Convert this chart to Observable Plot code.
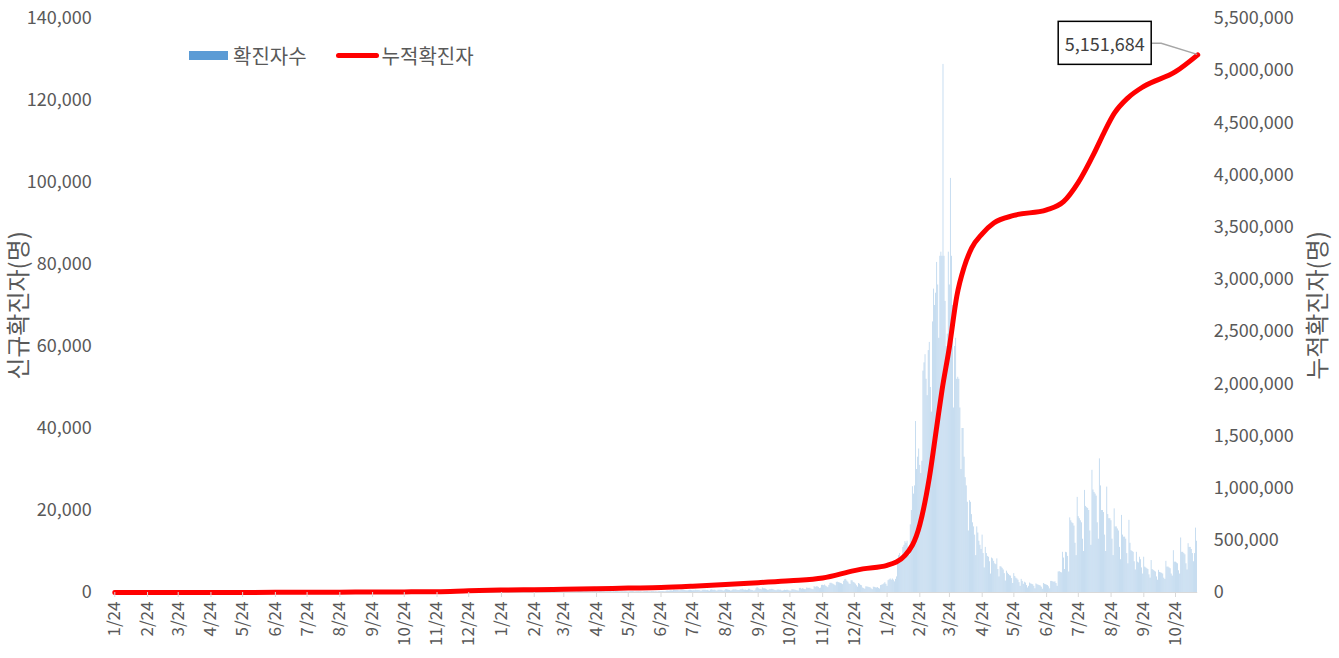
<!DOCTYPE html>
<html>
<head>
<meta charset="utf-8">
<script src="https://cdn.jsdelivr.net/npm/d3@7"></script>
<script src="https://cdn.jsdelivr.net/npm/@observablehq/plot@0.6"></script>
<style>
  html, body { margin: 0; padding: 0; background: #fff; }
  #wrap { position: relative; width: 1339px; height: 658px; font-family: "Noto Sans CJK KR", "Noto Sans", sans-serif; }
  #legend { position: absolute; left: 189px; top: 41px; display: flex; align-items: center; font-size: 20px; color: #595959; }
  .sw-bar { display: inline-block; width: 39px; height: 9px; background: #5b9bd5; margin-right: 5px; }
  .sw-line { display: inline-block; width: 43px; height: 5px; background: #ff0000; border-radius: 3px; margin-left: 29px; margin-right: 3px; }
</style>
</head>
<body>
<div id="wrap">
  <div id="chart"></div>
  <div id="legend"><span class="sw-bar"></span><span>확진자수</span><span class="sw-line"></span><span>누적확진자</span></div>
</div>
<script>
// ---------- DATA ----------
const seriesNames = ["확진자수", "누적확진자"];
const leftTitle = "신규확진자(명)";
const rightTitle = "누적확진자(명)";
const endLabel = "5,151,684";

// daily new cases, 2020-01-24 .. 2020-12-31
const new2020 = [
  0,0,0,1,0,1,2,1,
  0,1,0,1,0,1,0,0,0,0,0,0,0,0,0,0,0,0,0,2,5,6,8,7,9,4,5,6,3,
  9,6,5,4,6,7,5,8,36,45,21,18,11,9,8,10,11,7,9,12,8,14,15,13,14,12,16,11,10,13,15,
  10,12,8,9,7,6,5,8,6,5,4,3,4,6,3,2,2,1,3,2,1,1,2,1,2,0,1,2,1,1,
  0,1,2,1,0,2,6,15,29,18,20,12,10,8,9,7,6,4,5,8,10,6,14,12,9,13,17,22,19,15,12,
  15,12,10,21,14,20,24,22,14,12,13,10,19,25,20,18,11,9,14,12,20,18,26,21,17,23,14,16,19,12,
  13,16,10,8,12,14,11,9,6,10,12,16,8,5,3,8,7,10,6,9,5,4,11,9,6,7,4,8,6,3,5,
  8,5,4,6,7,3,9,12,10,14,8,13,15,44,62,104,87,142,125,138,134,126,97,100,118,154,103,104,115,93,98,
  88,65,85,76,56,58,53,43,44,50,48,39,42,34,46,53,45,51,44,33,28,24,45,32,31,29,27,23,38,29,
  21,16,11,18,8,25,14,19,20,10,9,13,18,15,27,27,10,22,31,22,16,31,19,14,30,12,18,26,24,21,32,
  22,16,12,22,18,20,26,36,19,35,25,38,43,63,45,67,72,109,102,136,156,121,175,151,187,128,174,214,158,145,
  193,235,262,295,254,244,213,262,249,362,384,399,230,251,378,423,409,398,473,327,286,328,552,324,286,192,242,392,334,249,247
];
// daily new cases, 2021-01-01 .. 2021-12-31
const new2021 = [
  260,273,290,290,321,300,191,224,196,134,167,126,127,137,108,144,77,118,154,138,124,130,104,111,95,131,133,141,96,135,103,
  109,94,108,95,110,97,64,92,113,106,86,84,116,84,154,98,200,171,134,159,135,71,108,128,114,89,126,103,
  118,112,115,104,115,101,78,106,128,121,122,124,117,124,121,123,131,114,103,127,97,76,118,102,115,108,113,119,89,123,117,
  141,128,144,138,126,170,212,223,245,253,219,170,191,233,237,201,218,217,178,244,198,246,221,194,155,152,252,239,229,197,
  210,178,141,188,181,197,251,184,164,212,181,233,234,215,188,170,169,205,186,178,214,200,163,129,192,228,222,226,195,134,161,
  186,189,212,186,213,136,117,240,212,234,260,170,174,162,213,187,193,155,183,165,125,226,252,223,240,260,198,193,321,375,
  313,359,400,393,336,583,550,496,509,503,428,417,637,606,597,495,465,431,422,466,532,541,461,410,463,443,573,477,492,474,414,
  283,509,537,529,529,471,497,396,333,600,660,560,525,562,450,326,549,554,549,535,454,353,452,676,677,609,552,493,370,419,608,
  663,607,668,512,495,475,671,667,808,634,564,597,506,528,793,768,562,522,473,318,449,907,1222,1019,805,740,647,1095,916,898,
  823,686,533,558,702,695,783,701,578,506,426,594,624,550,576,397,362,434,559,487,548,552,439,364,362,692,670,612,560,470,404,
  365,1002,1004,806,937,813,713,706,1101,1026,1003,1027,836,757,696,1429,1252,1407,1386,1236,955,1060,1734,1754,1673,1832,1558,1393,1186,1724,
  2222,2268,2131,2001,1820,1643,2484,2515,2406,2322,2222,2128,1928,2740,3143,3215,2798,2525,2086,1950,2879,2848,2459,2312,2056,1643,1313,2191,2026,1751,1645
];
// daily new cases, 2022-01-01 .. 2022-11-14
const new2022 = [
  1100,950,800,1400,1350,1300,1200,
  1150,900,700,1300,1250,1150,1100,
  1200,1000,850,1700,1800,1900,2100,
  2400,2000,1500,2900,3100,3300,3000,
  3300,3000,2600,3200,3800,7000,9000,
  9500,8200,7500,11000,11500,12400,12000,
  12500,11000,9000,16500,20000,25800,24000,
  26000,41700,30000,33000,35000,31000,29000,
  32000,54000,56000,58000,52000,48000,59000,
  61000,50000,44000,66000,74000,70000,73000,
  80500,75000,62000,82000,83000,82000,128800,
  82000,71000,60000,63000,83000,75000,101000,
  82000,70000,45000,60000,62000,52000,52500,
  52000,45000,30000,40000,40000,33000,28000,
  26000,22000,15000,22400,22000,19000,17000,
  16000,14000,9000,16000,14500,12500,11500,
  10500,14000,9500,6000,11000,9500,8800,
  8600,7500,4500,8400,8200,7600,7000,
  6800,8200,5600,3800,6300,6200,5900,
  5500,4600,2800,5200,4700,4400,4100,
  4000,3400,2200,4600,3900,3500,3300,
  3000,2400,1500,3200,2700,2000,2500,
  2300,1700,1100,1500,2300,2100,2000,
  1900,1500,900,2100,1900,1800,1700,
  1600,1300,800,2200,2000,1900,1800,
  1700,1400,900,2700,2700,2600,2500,
  2600,2200,1500,5000,5100,4900,4800,
  9800,8400,5600,9800,9700,8800,5000,
  18200,17500,17000,16800,16200,12000,9000,
  23200,18500,18000,17500,17000,13000,10000,
  24900,21000,20700,20500,20000,15000,11500,
  29800,25000,24400,24000,23500,17000,13000,
  32600,26000,20000,20000,19500,14000,10000,
  25700,19000,18000,18000,17500,13000,9000,
  20400,16000,16000,15500,15000,11000,8000,
  18800,14000,13500,13500,13000,9500,7000,
  17600,12000,10200,10000,9800,7500,5500,
  9800,7400,7200,8600,8000,6000,4500,
  8600,6200,6000,5800,5600,4300,3500,
  7800,5600,5400,5200,5000,3800,3000,
  5400,4900,4800,4700,4500,3500,3200,
  7600,6200,6200,6000,5800,4500,4000,
  10200,7400,7400,7200,7000,5300,4500,
  13300,9800,9800,9500,9200,7000,5500,
  11900,11000,11000,10500,9500,7500,9500,
  15700,12500
];

// cumulative confirmed cases
const cumDates = [
  "2020-01-24","2020-03-24","2020-06-24","2020-08-24","2020-09-24","2020-10-24","2020-11-24","2020-12-24",
  "2021-01-24","2021-02-24","2021-03-24","2021-04-24","2021-05-24","2021-06-24","2021-07-24","2021-08-24",
  "2021-09-24","2021-10-24","2021-11-24","2021-12-24","2022-01-01","2022-01-24","2022-02-10","2022-02-24",
  "2022-03-05","2022-03-12","2022-03-17","2022-03-24","2022-03-31","2022-04-07","2022-04-14","2022-04-24",
  "2022-05-05","2022-05-24","2022-06-24","2022-07-10","2022-07-24","2022-08-08","2022-08-17","2022-08-27",
  "2022-09-09","2022-09-24","2022-10-24","2022-11-14"
];
const cumValues = [
  0,350,1300,3300,5000,5800,7600,16300,
  23000,26900,30400,36000,42200,47800,60000,75700,
  94500,113000,139000,210000,226000,260000,356000,650000,
  1100000,1590000,1940000,2354000,2840000,3120000,3300000,3437000,
  3540000,3613000,3667000,3745000,3930000,4210000,4400000,4590000,
  4740000,4850000,4990000,5151684
];

const leftTicks = [0, 20000, 40000, 60000, 80000, 100000, 120000, 140000];
const rightTicks = [0, 500000, 1000000, 1500000, 2000000, 2500000, 3000000, 3500000, 4000000, 4500000, 5000000, 5500000];
const leftMax = 140000, rightMax = 5500000;

// ---------- BUILD ----------
const parse = d3.utcParse("%Y-%m-%d");
const daily = [];
[[new2020, "2020-01-24"], [new2021, "2021-01-01"], [new2022, "2022-01-01"]].forEach(([arr, s]) => {
  const d0 = parse(s);
  arr.forEach((v, i) => daily.push({date: d3.utcDay.offset(d0, i), value: v}));
});
const ratio = leftMax / rightMax;
const cum = cumDates.map((d, i) => ({date: parse(d), value: cumValues[i], y: cumValues[i] * ratio}));
const last = cum[cum.length - 1];

const xStart = parse("2020-01-24");
const xEnd = d3.utcDay.offset(daily[daily.length - 1].date, 1);
const tickDates = d3.utcMonth.range(parse("2020-01-01"), parse("2022-11-01")).map(m => d3.utcDay.offset(m, 23));
const fmt = d3.format(",");
const font = '"Noto Sans CJK KR", "Noto Sans", sans-serif';

const chart = Plot.plot({
  width: 1339,
  height: 658,
  marginLeft: 114.3,
  marginRight: 141.8,
  marginTop: 18,
  marginBottom: 66,
  style: {fontFamily: font, fontSize: "18px", color: "#595959", background: "#fff", overflow: "visible"},
  x: {type: "utc", domain: [xStart, xEnd], axis: null},
  y: {domain: [0, leftMax], axis: null},
  marks: [
    Plot.ruleY([0], {stroke: "#d9d9d9", strokeWidth: 1.2}),
    Plot.rectY(daily, {x: "date", y: "value", interval: "day", fill: "#5b9bd5", fillOpacity: 0.42, insetLeft: 0, insetRight: 0.25}),
    Plot.line(cum, {x: "date", y: "y", stroke: "#ff0000", strokeWidth: 5, curve: "monotone-x", strokeLinecap: "round", strokeLinejoin: "round"}),
    Plot.axisX({ticks: tickDates, tickSize: 5, tickFormat: () => "", stroke: "#d9d9d9"}),
    Plot.axisX({ticks: tickDates, tickSize: 0, tickPadding: 9, tickRotate: -90, fontSize: 17, fill: "#595959",
      tickFormat: d => `${d.getUTCMonth() + 1}/24`, label: null}),
    Plot.axisY({anchor: "left", ticks: leftTicks, tickSize: 0, tickPadding: 23, tickFormat: fmt, fontSize: 18, fill: "#595959", label: null}),
    Plot.axisY({anchor: "right", ticks: rightTicks.map(v => v * ratio), tickSize: 0, tickPadding: 16, fontSize: 18, fill: "#595959",
      tickFormat: d => fmt(Math.round(d / ratio / 1000) * 1000), label: null}),
    Plot.text([leftTitle], {frameAnchor: "left", textAnchor: "middle", dx: -95, rotate: -90, text: d => d, fontSize: 24, fill: "#595959"}),
    Plot.text([rightTitle], {frameAnchor: "right", textAnchor: "middle", dx: 121, rotate: -90, text: d => d, fontSize: 24, fill: "#595959"})
  ]
});
document.getElementById("chart").appendChild(chart);

// end-value annotation box, positioned from the last data point via the plot's scales
const sx = chart.scale("x"), sy = chart.scale("y");
const px = sx.apply(last.date), py = sy.apply(last.y);
const g = d3.select(chart).append("g");
g.append("polyline")
  .attr("points", `${px - 46},${py - 11} ${px - 36},${py - 11} ${px},${py}`)
  .attr("fill", "none").attr("stroke", "#a6a6a6").attr("stroke-width", 1.5);
g.append("rect")
  .attr("x", px - 139).attr("y", py - 33).attr("width", 93).attr("height", 43)
  .attr("fill", "#fff").attr("stroke", "#000").attr("stroke-width", 1.5);
g.append("text")
  .attr("x", px - 92.5).attr("y", py - 11).attr("text-anchor", "middle").attr("dominant-baseline", "central")
  .attr("font-size", 18).attr("fill", "#404040").style("font-family", font)
  .text(endLabel);
</script>
</body>
</html>
